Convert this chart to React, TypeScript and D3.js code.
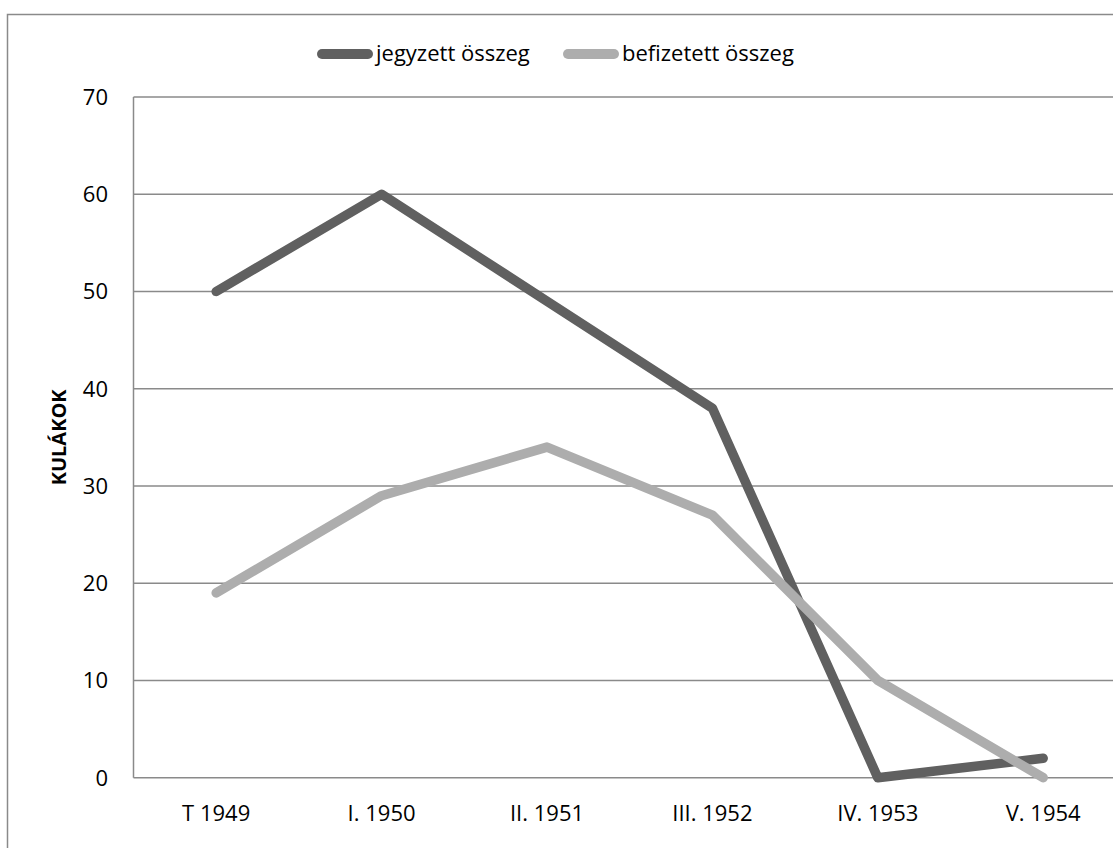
import React, { useEffect, useRef } from 'react';
import * as d3 from 'd3';

// categories and values
const categories = ['T 1949', 'I. 1950', 'II. 1951', 'III. 1952', 'IV. 1953', 'V. 1954'];
const jegyzett = [50, 60, 49, 38, 0, 2];
const befizetett = [19, 29, 34, 27, 10, 0];
const yTicks = [0, 10, 20, 30, 40, 50, 60, 70];
const seriesNames = ['jegyzett összeg', 'befizetett összeg'];
const yTitle = 'KULÁKOK';

const W = 1113;
const H = 848;
const FONT = '"Open Sans", "Liberation Sans", sans-serif';
const GRID = '#8a8a8a';
const colors = ['#606060', '#adadad'];

export default function App() {
    const ref = useRef<SVGSVGElement>(null);

    useEffect(() => {
        if (!ref.current) {
            return;
        }
        const svg = d3.select(ref.current);
        svg.selectAll('*').remove();

        // plot area
        const left = 133.5, top = 97, bottom = 777.7;
        const step = 165.4;

        const x = d3.scaleBand<string>()
            .domain(categories)
            .range([left, left + step * categories.length])
            .padding(0);
        const cx = (c: string) => (x(c) as number) + x.bandwidth() / 2;

        const y = d3.scaleLinear().domain([0, 70]).range([bottom, top]);

        // outer border (runs off right and bottom edges)
        svg.append('rect')
            .attr('x', 7.5).attr('y', 14.5)
            .attr('width', W + 20).attr('height', H + 20)
            .attr('fill', 'none')
            .attr('stroke', GRID)
            .attr('stroke-width', 1.5);

        // gridlines
        svg.append('g')
            .selectAll('line')
            .data(yTicks)
            .join('line')
            .attr('x1', left).attr('x2', W + 20)
            .attr('y1', d => y(d)).attr('y2', d => y(d))
            .attr('stroke', GRID)
            .attr('stroke-width', 1.5);

        // left axis line
        svg.append('line')
            .attr('x1', left).attr('x2', left)
            .attr('y1', top).attr('y2', bottom)
            .attr('stroke', GRID)
            .attr('stroke-width', 1.5);

        // y tick labels
        svg.append('g')
            .selectAll('text')
            .data(yTicks)
            .join('text')
            .attr('x', 108)
            .attr('y', d => y(d))
            .attr('dy', '0.36em')
            .attr('text-anchor', 'end')
            .attr('font-family', FONT)
            .attr('font-size', 22)
            .attr('fill', '#000')
            .text(d => d);

        // x labels
        svg.append('g')
            .selectAll('text')
            .data(categories)
            .join('text')
            .attr('x', d => cx(d))
            .attr('y', 821)
            .attr('text-anchor', 'middle')
            .attr('font-family', FONT)
            .attr('font-size', 22)
            .attr('fill', '#000')
            .text(d => d);

        // y title
        svg.append('text')
            .attr('transform', 'translate(66,' + (top + bottom) / 2 + ') rotate(-90)')
            .attr('text-anchor', 'middle')
            .attr('font-family', FONT)
            .attr('font-size', 20)
            .attr('font-weight', 'bold')
            .attr('fill', '#000')
            .text(yTitle);

        // lines
        const line = d3.line<number>()
            .x((d, i) => cx(categories[i]))
            .y(d => y(d));

        [jegyzett, befizetett].forEach((vals, i) => {
            svg.append('path')
                .datum(vals)
                .attr('fill', 'none')
                .attr('stroke', colors[i])
                .attr('stroke-width', 9.5)
                .attr('stroke-linecap', 'round')
                .attr('stroke-linejoin', 'round')
                .attr('d', line);
        });

        // legend
        const legendX = [322, 568];
        seriesNames.forEach((name, i) => {
            const g = svg.append('g');
            g.append('line')
                .attr('x1', legendX[i]).attr('x2', legendX[i] + 46)
                .attr('y1', 54).attr('y2', 54)
                .attr('stroke', colors[i])
                .attr('stroke-width', 10)
                .attr('stroke-linecap', 'round');
            g.append('text')
                .attr('x', legendX[i] + 54)
                .attr('y', 61)
                .attr('font-family', FONT)
                .attr('font-size', 22)
                .attr('fill', '#000')
                .text(name);
        });
    }, []);

    return (
        <svg
            ref={ref}
            width={W}
            height={H}
            style={{ position: 'absolute', left: 0, top: 0, background: '#fff', display: 'block' }}
        />
    );
}
